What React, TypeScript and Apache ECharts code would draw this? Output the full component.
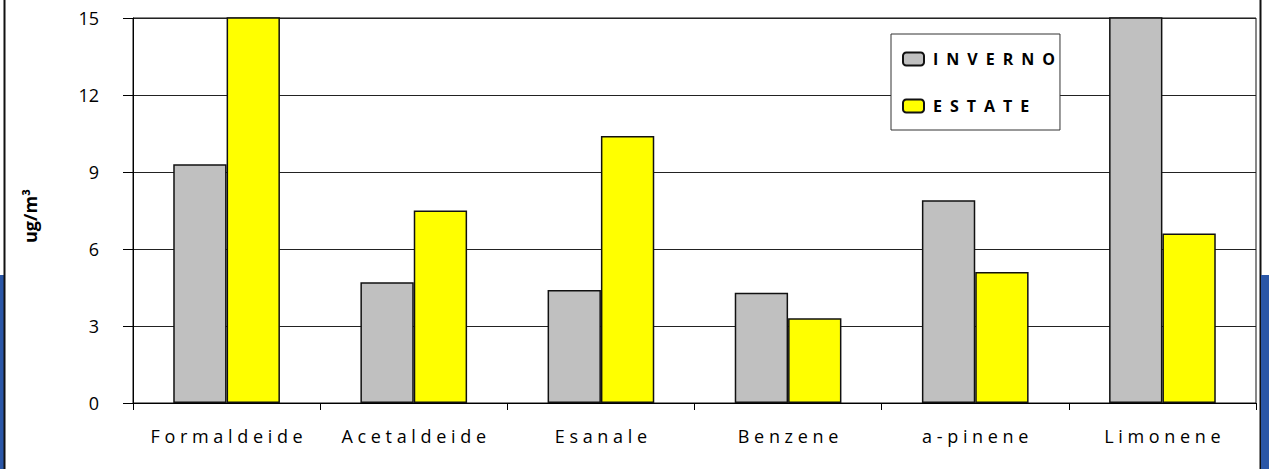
import React, { useEffect, useRef } from "react";
import * as echarts from "echarts";

const categories = ["Formaldeide", "Acetaldeide", "Esanale", "Benzene", "a-pinene", "Limonene"];
const inverno = [9.3, 4.7, 4.4, 4.3, 7.9, 17];
const estate = [17, 7.5, 10.4, 3.3, 5.1, 6.6];
const seriesNames = ["INVERNO", "ESTATE"];
const yTicks = { min: 0, max: 15, interval: 3 };
const unitLabel = "ug/m³";

const spaced = (s: string) => s.split("").join(" ");
const spacedLegend = (s: string) => s.split("").join("\u2002");

export default function App() {
  const ref = useRef<HTMLDivElement>(null);
  useEffect(() => {
    if (!ref.current) return;
    const chart = echarts.init(ref.current, undefined, { renderer: "svg" });
    chart.setOption({
      animation: false,
      backgroundColor: "#ffffff",
      textStyle: { fontFamily: "Open Sans" },
      grid: {
        left: 133,
        right: 13,
        top: 18,
        bottom: 66,
        show: true,
        borderColor: "#111",
        borderWidth: 1,
      },
      legend: {
        orient: "vertical",
        left: 891,
        top: 34,
        itemWidth: 21,
        itemHeight: 13,
        itemGap: 31,
        backgroundColor: "#ffffff",
        borderColor: "#333",
        borderWidth: 1,
        padding: [17, 5, 16, 11],
        formatter: (n: string) => spacedLegend(n),
        textStyle: {
          fontFamily: "Open Sans",
          fontWeight: "bold",
          fontSize: 16,
          lineHeight: 15,
          color: "#000",
          width: 118,
          padding: [0, 0, 0, 4],
        },
        data: seriesNames,
      },
      xAxis: {
        type: "category",
        data: categories,
        axisLine: { lineStyle: { color: "#000", width: 1 } },
        axisTick: { show: true, length: 7, interval: 0, lineStyle: { color: "#000" } },
        axisLabel: {
          margin: 24,
          interval: 0,
          fontSize: 18,
          color: "#000",
          fontFamily: "Open Sans",
          formatter: (v: string) => spaced(v),
        },
      },
      yAxis: {
        type: "value",
        min: yTicks.min,
        max: yTicks.max,
        interval: yTicks.interval,
        axisLine: { show: true, lineStyle: { color: "#000", width: 1 } },
        axisTick: { show: true, length: 10, lineStyle: { color: "#000" } },
        axisLabel: {
          margin: 34,
          fontSize: 18,
          color: "#000",
          fontFamily: "Open Sans",
        },
        splitLine: { show: true, lineStyle: { color: "#222", width: 1 } },
      },
      graphic: [
        { type: "rect", shape: { x: 0, y: 275, width: 4, height: 194 }, style: { fill: "#2A56A6" }, silent: true },
        { type: "line", shape: { x1: 4.5, y1: 0, x2: 4.5, y2: 469 }, style: { stroke: "#111", lineWidth: 2 }, silent: true },
        { type: "line", shape: { x1: 1260.5, y1: 0, x2: 1260.5, y2: 469 }, style: { stroke: "#111", lineWidth: 2 }, silent: true },
        { type: "rect", shape: { x: 1261, y: 275, width: 8, height: 194 }, style: { fill: "#2A56A6" }, silent: true },
        {
          type: "text",
          x: 30,
          y: 216,
          rotation: Math.PI / 2,
          style: {
            text: unitLabel,
            fontFamily: "Open Sans",
            fontWeight: "bold",
            fontSize: 18,
            fill: "#000",
            align: "center",
            verticalAlign: "middle",
          },
          silent: true,
        },
      ],
      series: [
        {
          name: seriesNames[0],
          type: "bar",
          data: inverno,
          barGap: "0%",
          barCategoryGap: "43%",
          clip: true,
          itemStyle: { color: "#C0C0C0", borderColor: "#111", borderWidth: 1.5 },
        },
        {
          name: seriesNames[1],
          type: "bar",
          data: estate,
          barGap: "0%",
          barCategoryGap: "43%",
          clip: true,
          itemStyle: { color: "#FFFF00", borderColor: "#111", borderWidth: 1.5 },
        },
      ],
    });
    return () => chart.dispose();
  }, []);
  return (
    <div
      ref={ref}
      style={{ position: "fixed", left: 0, top: 0, width: 1269, height: 469 }}
    />
  );
}
